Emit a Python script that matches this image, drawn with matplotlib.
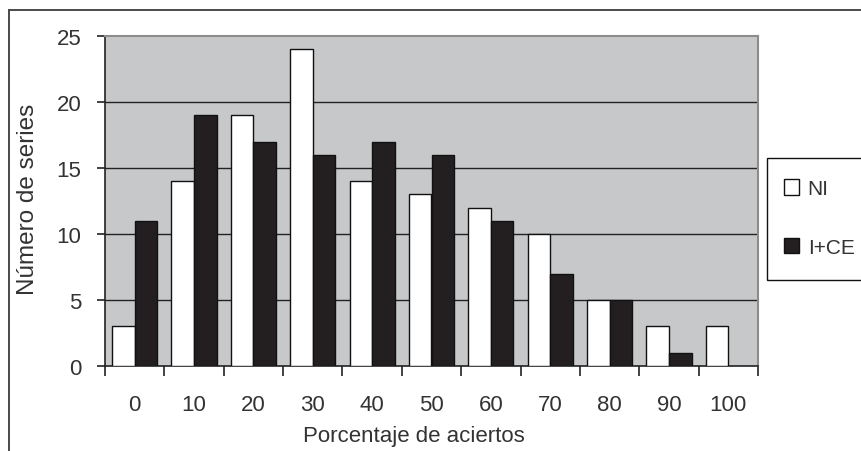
import numpy as np
import matplotlib
matplotlib.use("Agg")
import matplotlib.pyplot as plt
from matplotlib.patches import Rectangle
from matplotlib.lines import Line2D

# data
categorias = ['0', '10', '20', '30', '40', '50', '60', '70', '80', '90', '100']
ni = [3, 14, 19, 24, 14, 13, 12, 10, 5, 3, 3]
ice = [11, 19, 17, 16, 17, 16, 11, 7, 5, 1, 0]
yticks = [0, 5, 10, 15, 20, 25]

plt.rcParams['font.family'] = ['Liberation Sans', 'DejaVu Sans']
txt = '#333333'

W, H = 862, 452
fig = plt.figure(figsize=(W / 100, H / 100), dpi=100)
ax = fig.add_axes([105 / W, 85 / H, 653 / W, 330 / H])
ax.set_facecolor('#c7c8ca')

x = np.arange(len(categorias))
w = 0.38
b1 = ax.bar(x - 0.19, ni, w, color='white', edgecolor='#111111', lw=1.0, label='NI', zorder=3)
b2 = ax.bar(x + 0.19, ice, w, color='#231f20', edgecolor='#111111', lw=1.0, label='I+CE', zorder=3)
# a zero-height bar leaves no mark in the original
for r, v in zip(b2, ice):
    if v == 0:
        r.set_linewidth(0)

ax.set_xlim(-0.5, len(categorias) - 0.5)
ax.set_ylim(0, 25)
ax.set_yticks(yticks)
ax.set_yticklabels([str(v) for v in yticks], fontsize=16, color=txt)
for v in yticks[1:-1]:
    ax.axhline(v, color='#222222', lw=1.0, zorder=1)

# ticks at category boundaries, labels at centres
ax.set_xticks(np.arange(-0.5, len(categorias), 1.0))
ax.set_xticklabels([])
ax.set_xticks(x, minor=True)
ax.set_xticklabels(categorias, minor=True, fontsize=16, color=txt)
ax.tick_params(axis='x', which='major', direction='out', length=7, width=1.2, color='#222222')
ax.tick_params(axis='x', which='minor', length=0, pad=20)
ax.tick_params(axis='y', direction='out', length=6, width=1.2, color='#222222', pad=11)

ax.spines['left'].set_color('#222222')
ax.spines['bottom'].set_color('#222222')
ax.spines['left'].set_linewidth(1.2)
ax.spines['bottom'].set_linewidth(1.2)
ax.spines['top'].set_color('#8c8c8c')
ax.spines['right'].set_color('#8c8c8c')
ax.spines['top'].set_linewidth(1.5)
ax.spines['right'].set_linewidth(1.5)

fig.text(414 / W, 1 - 437 / H, 'Porcentaje de aciertos', fontsize=16, color=txt,
         ha='center', va='center')
fig.text(28 / W, 1 - 199 / H, 'Número de series', fontsize=17.5, color=txt,
         ha='center', va='center', rotation=90)

# outer chart border (cropped on right and bottom)
fig.add_artist(Line2D([9 / W, 1.01], [1 - 11 / H, 1 - 11 / H], color='#4a4a4a', lw=1.4))
fig.add_artist(Line2D([9 / W, 9 / W], [1 - 11 / H, -0.01], color='#4a4a4a', lw=1.4))

# legend box
fig.add_artist(Rectangle((767 / W, 1 - 281 / H), 110 / W, 122 / H, transform=fig.transFigure,
                         facecolor='white', edgecolor='#111111', lw=1.0))
leg = fig.legend(handles=[b1, b2], labels=['NI', 'I+CE'], loc='center left',
                 bbox_to_anchor=(765 / W, 1 - 219 / H), frameon=False, fontsize=15,
                 handlelength=0.75, handleheight=0.75, handletextpad=0.4,
                 labelspacing=1.9, labelcolor=txt)

fig.savefig('out.png', dpi=100)
